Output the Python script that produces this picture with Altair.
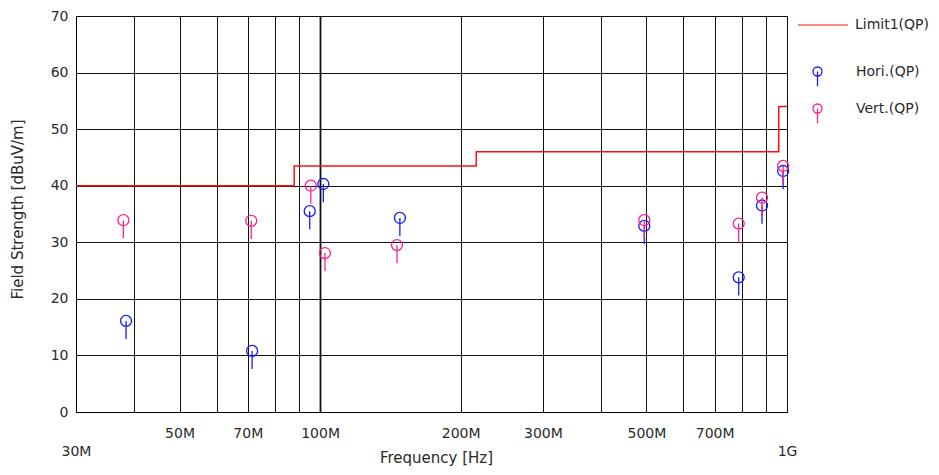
import altair as alt
import pandas as pd

# ---- data ----
limit_freq = [30, 88, 216, 960, 1000]          # MHz
limit_level = [40.0, 43.5, 46.0, 54.0, 54.0]    # dBuV/m (step-after)

hori_freq = [38.4, 71.5, 95.0, 101.6, 148.2, 494.7, 788, 884, 981]
hori_level = [16.1, 10.8, 35.5, 40.3, 34.3, 32.9, 23.8, 36.5, 42.6]

vert_freq = [37.9, 71.2, 95.5, 102.4, 146.1, 494.7, 788, 884, 981]
vert_level = [33.9, 33.8, 40.0, 28.1, 29.5, 33.9, 33.3, 37.9, 43.5]

x_grid = [30, 40, 50, 60, 70, 80, 90, 100, 200, 300, 400, 500, 600, 700, 800, 900, 1000]
x_labels = [50, 70, 100, 200, 300, 500, 700]
y_ticks = [0, 10, 20, 30, 40, 50, 60, 70]

FONT = "DejaVu Sans"
TXT = "#2a2a2a"
RED = "#ff1010"
BLUE = "#1a1aff"
PINK = "#ff2090"
MARKER = "M1,0A1,1,0,1,1,-1,0A1,1,0,1,1,1,0M0,0L0,3.3"

limit_df = pd.DataFrame({"f": limit_freq, "v": limit_level, "s": "Limit1(QP)"})
hori_df = pd.DataFrame({"f": hori_freq, "v": hori_level, "s": "Hori.(QP)"})
vert_df = pd.DataFrame({"f": vert_freq, "v": vert_level, "s": "Vert.(QP)"})

label_expr = (
    "datum.value == 30 ? ['', '30M'] : datum.value == 1000 ? ['', '1G'] : "
    "indexof(" + str(x_labels) + ", datum.value) >= 0 ? datum.value + 'M' : ''"
)

xscale = alt.Scale(type="log", domain=[30, 1000], nice=False)
yscale = alt.Scale(domain=[0, 70], nice=False, zero=False)

H = 396

xaxis = alt.Axis(
    values=x_grid, labelExpr=label_expr, labelFlush=False, labelOverlap=False,
    labelPadding=14, labelLineHeight=18, labelBaseline="top",
    title="Frequency [Hz]", titleX=360, titleY=45.5, titleBaseline="middle",
    titleAlign="center", titleAnchor="middle",
    gridWidth={"condition": {"test": "datum.value === 100", "value": 1.8}, "value": 1},
)
yaxis = alt.Axis(
    values=y_ticks, labelPadding=8, title="Field Strength [dBuV/m]",
    titleX=-59, titleY=193, titleAngle=-90, titleBaseline="middle", titleAlign="center",
)

X = alt.X("f:Q", scale=xscale, axis=xaxis)
Y = alt.Y("v:Q", scale=yscale, axis=yaxis)

legend_common = dict(orient="none", title=None, padding=0, labelFont=FONT,
                     labelFontSize=14, labelColor=TXT, labelLimit=300)

limit = alt.Chart(limit_df).mark_line(interpolate="step-after", strokeWidth=1.5).encode(
    x=X, y=Y,
    color=alt.Color("s:N", scale=alt.Scale(domain=["Limit1(QP)"], range=[RED]),
                    legend=alt.Legend(legendX=721, legendY=-17, symbolType="stroke",
                                      symbolSize=2500, symbolStrokeWidth=1.2,
                                      labelOffset=6, **legend_common)),
)

def pts(df, name, col, ly):
    return alt.Chart(df).mark_point(shape=MARKER, filled=False, size=121, strokeWidth=1.3,
                                    opacity=1).encode(
        x=alt.X("f:Q", scale=xscale), y=alt.Y("v:Q", scale=yscale),
        color=alt.Color("s:N", scale=alt.Scale(domain=[name], range=[col]),
                        legend=alt.Legend(legendX=734.5, legendY=ly, symbolType=MARKER,
                                          symbolSize=81, symbolStrokeWidth=1.3,
                                          labelOffset=31.5, **legend_common)),
    )

chart = alt.layer(
    limit,
    pts(hori_df, "Hori.(QP)", BLUE, 48.5),
    pts(vert_df, "Vert.(QP)", PINK, 85.5),
).resolve_scale(color="independent").properties(
    width=711, height=H,
    autosize=alt.AutoSizeParams(type="none"),
    padding={"left": 68, "top": 8, "right": 144, "bottom": 55},
    background="white",
).configure_view(stroke="black", strokeWidth=1).configure_axis(
    labelFont=FONT, labelFontSize=14, labelColor=TXT,
    titleFont=FONT, titleFontSize=15, titleColor=TXT, titleFontWeight="normal",
    domainColor="black", domainWidth=1, gridColor="#111111", gridOpacity=1,
    grid=True, tickSize=0, ticks=False,
)

chart.save("out.html", embed_options={"renderer": "svg", "actions": False})
